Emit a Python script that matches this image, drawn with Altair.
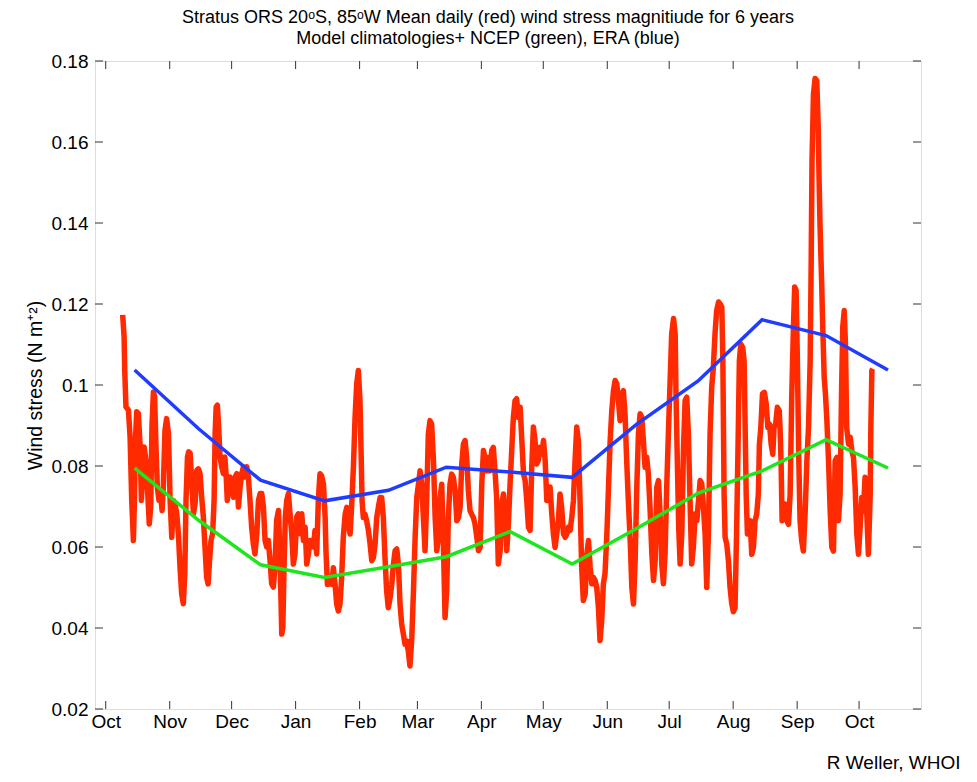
import altair as alt
import pandas as pd

# Daily mean wind stress (red), day counted from 1 October
red_day = [8.2,8.9,9.2,9.8,11.0,11.8,12.6,13.4,13.9,14.4,15.0,15.8,16.6,17.3,17.9,18.6,19.5,20.2,21.1,21.8,22.4,23.1,23.7,24.4,25.0,25.8,26.6,27.3,27.9,28.7,29.5,30.4,31.2,32.0,32.8,33.6,34.4,35.2,36.0,36.8,37.6,38.3,38.9,39.6,40.2,40.9,41.7,42.5,43.3,44.1,44.9,45.7,46.5,47.3,48.1,48.9,49.6,50.2,51.0,51.8,52.5,53.0,53.5,54.1,54.7,55.4,56.2,57.0,57.7,58.3,58.9,59.6,60.2,61.0,61.9,62.7,63.5,64.3,65.1,65.9,66.7,67.5,68.3,69.1,69.9,70.7,71.5,72.3,73.2,74.0,74.8,75.6,76.4,77.2,78.0,78.8,79.6,80.4,81.2,82.0,82.8,83.7,84.5,85.3,85.8,86.4,87.0,87.7,88.5,89.3,90.1,90.9,91.7,92.5,93.3,94.2,95.0,95.8,96.6,97.4,98.2,99.0,99.8,100.6,101.4,102.2,103.0,103.8,
           104.6,105.5,106.3,106.7,107.4,108.0,108.7,109.5,110.3,111.1,111.9,112.7,113.5,114.3,115.1,116.0,116.8,117.6,118.4,119.2,120.0,120.8,121.6,122.4,123.2,123.7,124.2,124.8,125.6,126.4,127.3,128.1,128.9,129.7,130.5,131.3,132.1,132.9,133.7,134.5,135.3,136.1,136.9,137.8,138.6,139.4,140.2,141.0,141.8,142.6,143.4,144.2,145.0,145.8,146.6,147.4,148.3,149.1,149.9,150.7,151.5,152.3,153.1,153.9,154.7,155.5,156.3,157.1,157.9,158.8,159.6,160.4,161.2,162.0,162.8,163.6,164.4,165.2,166.0,166.8,167.6,168.4,169.3,170.1,170.9,171.7,172.5,173.3,174.1,174.9,175.7,176.5,177.3,178.1,178.9,179.8,180.6,181.4,182.2,183.0,183.8,184.6,185.4,186.2,187.0,187.8,188.6,189.4,190.2,191.1,191.9,192.7,193.5,194.3,195.1,195.9,196.7,197.5,198.3,199.1,199.9,
           200.8,201.6,202.4,203.2,204.0,204.8,205.6,206.4,207.2,208.0,208.8,209.6,210.4,211.3,212.1,212.9,213.7,214.5,215.3,216.1,216.9,217.7,218.5,219.3,220.1,220.9,221.8,222.6,223.4,224.2,225.0,225.8,226.6,227.4,228.2,229.0,229.8,230.6,231.4,232.3,233.1,233.9,234.7,235.5,236.3,237.1,237.9,238.7,239.5,240.3,241.1,241.9,242.8,243.6,244.4,245.2,246.0,246.8,247.6,248.4,249.2,250.0,250.8,251.6,252.4,253.2,254.1,254.9,255.7,256.5,257.3,258.1,258.9,259.7,260.5,261.3,262.1,262.9,263.7,264.6,265.4,266.2,267.0,267.8,268.6,269.4,270.2,271.0,271.8,272.6,273.4,274.2,275.1,275.9,276.3,277.0,277.6,278.3,279.1,279.9,280.7,281.5,282.3,283.1,283.9,284.7,285.6,286.4,287.2,288.0,288.8,289.6,290.4,291.2,292.0,292.8,293.6,294.4,295.2,296.0,296.9,
           297.7,298.5,299.0,299.3,299.6,300.1,300.9,301.7,302.5,303.3,304.1,304.9,305.7,306.5,307.0,307.7,308.6,309.3,309.8,310.3,310.9,311.7,312.2,313.0,313.8,314.6,315.4,316.2,316.7,317.4,318.2,319.1,320.0,320.8,321.6,322.4,323.2,323.8,324.6,325.4,326.3,326.7,327.2,327.7,328.4,329.2,330.0,330.8,331.6,332.4,333.2,333.8,334.5,335.1,335.8,336.4,337.2,338.0,338.9,339.7,340.5,341.3,341.8,342.2,342.9,343.7,344.5,345.2,345.6,346.1,346.8,347.4,348.1,348.7,349.4,350.2,351.0,351.8,352.6,353.4,354.2,355.0,355.8,356.5,357.1,357.8,358.4,359.0,359.9,360.7,361.5,362.3,363.1,363.9,364.7,365.5,366.3,367.1,367.9,368.7,369.5,370.4,370.7,371.2,371.6]
red_val = [0.1173,0.1119,0.1037,0.0946,0.0938,0.0872,0.0715,0.0616,0.0715,0.0864,0.0934,0.0930,0.0855,0.0715,0.0781,0.0847,0.0814,0.0748,0.0657,0.0699,0.0897,0.0983,0.0971,0.0839,0.0748,0.0715,0.0732,0.0690,0.0748,0.0888,0.0917,0.0880,0.0715,0.0624,0.0715,0.0707,0.0682,0.0633,0.0550,0.0484,0.0460,0.0534,0.0715,0.0822,0.0835,0.0831,0.0756,0.0682,0.0707,0.0789,0.0793,0.0781,0.0723,0.0674,0.0600,0.0525,0.0509,0.0558,0.0616,0.0633,0.0715,0.0880,0.0946,0.0950,0.0897,0.0822,0.0798,0.0781,0.0822,0.0781,0.0715,0.0756,0.0773,0.0748,0.0723,0.0773,0.0781,0.0699,0.0748,0.0781,0.0798,0.0773,0.0798,0.0773,0.0715,0.0649,0.0608,0.0583,0.0633,0.0715,0.0732,0.0732,0.0699,0.0616,0.0600,0.0616,0.0567,0.0509,0.0501,0.0550,0.0666,0.0690,0.0558,0.0385,0.0402,0.0550,0.0674,0.0715,0.0732,0.0682,0.0633,0.0558,0.0583,0.0674,0.0682,0.0633,0.0682,0.0616,0.0649,0.0558,0.0583,0.0616,0.0616,0.0600,0.0641,0.0583,0.0715,0.0781,
           0.0776,0.0755,0.0673,0.0591,0.0508,0.0508,0.0525,0.0508,0.0549,0.0508,0.0459,0.0442,0.0459,0.0525,0.0624,0.0681,0.0698,0.0657,0.0632,0.0706,0.0797,0.0920,0.1003,0.1036,0.0961,0.0838,0.0714,0.0673,0.0681,0.0665,0.0640,0.0607,0.0566,0.0574,0.0607,0.0673,0.0698,0.0722,0.0722,0.0673,0.0574,0.0492,0.0450,0.0475,0.0508,0.0558,0.0591,0.0595,0.0558,0.0459,0.0409,0.0385,0.0360,0.0368,0.0343,0.0306,0.0376,0.0492,0.0624,0.0722,0.0755,0.0788,0.0755,0.0673,0.0591,0.0714,0.0879,0.0912,0.0904,0.0813,0.0673,0.0591,0.0624,0.0722,0.0755,0.0607,0.0426,0.0492,0.0673,0.0755,0.0780,0.0772,0.0739,0.0665,0.0673,0.0698,0.0805,0.0854,0.0863,0.0821,0.0739,0.0690,0.0681,0.0673,0.0657,0.0624,0.0591,0.0599,0.0755,0.0838,0.0821,0.0788,0.0821,0.0788,0.0838,0.0846,0.0788,0.0722,0.0558,0.0591,0.0706,0.0731,0.0673,0.0591,0.0657,0.0755,0.0838,0.0920,0.0961,0.0966,0.0920,
           0.0945,0.0863,0.0781,0.0764,0.0715,0.0649,0.0641,0.0797,0.0896,0.0863,0.0805,0.0814,0.0846,0.0830,0.0863,0.0814,0.0715,0.0715,0.0748,0.0682,0.0632,0.0599,0.0632,0.0665,0.0731,0.0698,0.0632,0.0624,0.0632,0.0649,0.0641,0.0673,0.0715,0.0814,0.0896,0.0863,0.0715,0.0550,0.0468,0.0484,0.0583,0.0616,0.0550,0.0509,0.0525,0.0517,0.0500,0.0451,0.0369,0.0418,0.0509,0.0534,0.0632,0.0748,0.0863,0.0937,0.0986,0.1011,0.1003,0.0962,0.0912,0.0978,0.0986,0.0929,0.0814,0.0715,0.0616,0.0500,0.0459,0.0566,0.0748,0.0879,0.0929,0.0921,0.0863,0.0797,0.0822,0.0781,0.0698,0.0583,0.0517,0.0566,0.0748,0.0764,0.0682,0.0558,0.0509,0.0583,0.0748,0.0879,0.1003,0.1126,0.1164,0.1126,0.0978,0.0797,0.0649,0.0558,0.0632,0.0838,0.0962,0.0970,0.0879,0.0715,0.0558,0.0599,0.0682,0.0665,0.0715,0.0764,0.0756,0.0698,0.0632,0.0500,0.0632,0.0879,0.0995,0.1044,0.1126,0.1184,0.1205,
           0.1200,0.1192,0.1060,0.0895,0.0731,0.0623,0.0607,0.0566,0.0500,0.0460,0.0440,0.0450,0.0648,0.0895,0.1060,0.1101,0.1093,0.1060,0.0895,0.0731,0.0632,0.0648,0.0665,0.0582,0.0599,0.0665,0.0681,0.0731,0.0854,0.0895,0.0978,0.0982,0.0953,0.0895,0.0904,0.0854,0.0829,0.0895,0.0904,0.0945,0.0937,0.0895,0.0813,0.0665,0.0673,0.0706,0.0665,0.0656,0.0731,0.0978,0.1143,0.1242,0.1233,0.1060,0.0813,0.0665,0.0615,0.0590,0.0689,0.0813,0.0895,0.1060,0.1307,0.1555,0.1719,0.1757,0.1752,0.1637,0.1513,0.1390,0.1266,0.1143,0.1019,0.0978,0.0912,0.0813,0.0689,0.0599,0.0590,0.0813,0.0821,0.0665,0.0731,0.0978,0.1143,0.1184,0.1101,0.0895,0.0854,0.0871,0.0838,0.0821,0.0747,0.0632,0.0582,0.0648,0.0722,0.0689,0.0772,0.0689,0.0582,0.0731,0.0895,0.1036,0.1040]

# Monthly model climatologies (mid-month)
clim_day = [14, 45, 75, 106, 137, 165, 196, 226, 257, 287, 318, 349, 379]
era_val = [0.1037, 0.0892, 0.0765, 0.0714, 0.0740, 0.0797, 0.0785, 0.0772, 0.0902, 0.1010, 0.1161, 0.1122, 0.1037]
ncep_val = [0.0795, 0.0666, 0.0556, 0.0525, 0.0551, 0.0576, 0.0638, 0.0558, 0.0645, 0.0733, 0.0788, 0.0865, 0.0795]

month_start = [0, 31, 61, 92, 123, 151, 182, 212, 243, 273, 304, 335, 365]
month_label = ["Oct", "Nov", "Dec", "Jan", "Feb", "Mar", "Apr", "May", "Jun", "Jul", "Aug", "Sep", "Oct"]
y_ticks = [0.02, 0.04, 0.06, 0.08, 0.10, 0.12, 0.14, 0.16, 0.18]

W, H = 826, 648
FONT = "Liberation Sans"
TICK = 8

red_df = pd.DataFrame({"day": red_day, "v": red_val})
era_df = pd.DataFrame({"day": clim_day, "v": era_val})
ncep_df = pd.DataFrame({"day": clim_day, "v": ncep_val})
xt_df = pd.DataFrame({"day": month_start})
yt_df = pd.DataFrame({"v": y_ticks})

label_expr = "[" + ",".join(f"'{m}'" for m in month_label) + "][indexof([" + ",".join(str(d) for d in month_start) + "], datum.value)]"

xscale = alt.Scale(domain=[-5.2, 395], nice=False, zero=False)
yscale = alt.Scale(domain=[0.02, 0.18], nice=False, zero=False)

xaxis = alt.Axis(values=month_start, labelExpr=label_expr, ticks=False, domain=False, grid=False,
                 labelFontSize=19, labelPadding=3, labelColor="black", labelFont=FONT,
                 title="R Weller, WHOI", titleX=W + 39, titleY=59, titleAlign="right",
                 titleBaseline="alphabetic", titleFontSize=19, titleFontWeight="normal",
                 titleFont=FONT, titleColor="black", labelFlush=False, labelOverlap=False)
yaxis = alt.Axis(values=y_ticks, format="~g", ticks=False, domain=False, grid=False,
                 labelFontSize=19, labelPadding=7, labelColor="black", labelFont=FONT,
                 title="Wind stress (N m\u207a\u00b2)", titleX=-60, titleY=H / 2, titleAngle=270,
                 titleAlign="center", titleBaseline="middle", titleFontSize=19.5,
                 titleFontWeight="normal", titleFont=FONT, titleColor="black")

X = alt.X("day:Q", scale=xscale, axis=xaxis)
Y = alt.Y("v:Q", scale=yscale, axis=yaxis)

red = alt.Chart(red_df).mark_line(color="#ff2a00", strokeWidth=5.5, strokeJoin="round").encode(x=X, y=Y)
era = alt.Chart(era_df).mark_line(color="#1f3cff", strokeWidth=3.5).encode(x=X, y=Y)
ncep = alt.Chart(ncep_df).mark_line(color="#1ee61e", strokeWidth=3.5).encode(x=X, y=Y)

tick_color = "#333333"
yt_left = alt.Chart(yt_df).mark_rule(color=tick_color, strokeWidth=1).encode(y=Y, x=alt.value(0), x2=alt.value(TICK))
yt_right = alt.Chart(yt_df).mark_rule(color=tick_color, strokeWidth=1).encode(y=Y, x=alt.value(W - TICK), x2=alt.value(W))
xt_bot = alt.Chart(xt_df).mark_rule(color=tick_color, strokeWidth=1).encode(x=X, y=alt.value(H - TICK), y2=alt.value(H))
xt_top = alt.Chart(xt_df).mark_rule(color=tick_color, strokeWidth=1).encode(x=X, y=alt.value(0), y2=alt.value(TICK))

chart = alt.layer(red, era, ncep, yt_left, yt_right, xt_bot, xt_top).properties(
    width=W, height=H,
    title=alt.TitleParams(
        text=["Stratus ORS 20\u1d52S, 85\u1d52W  Mean daily (red) wind stress magnitiude for 6 years",
              "Model climatologies+ NCEP (green), ERA (blue)"],
        font=FONT, fontSize=18, fontWeight="normal", color="black", anchor="middle",
        dx=-20, dy=6, offset=10, lineHeight=21),
    autosize=alt.AutoSizeParams(type="none"),
    padding={"left": 87, "top": 53, "right": 40, "bottom": 65},
).configure_view(stroke=tick_color, strokeWidth=1).configure(background="white")

chart.save("out.html", embed_options={"renderer": "svg", "actions": False})
